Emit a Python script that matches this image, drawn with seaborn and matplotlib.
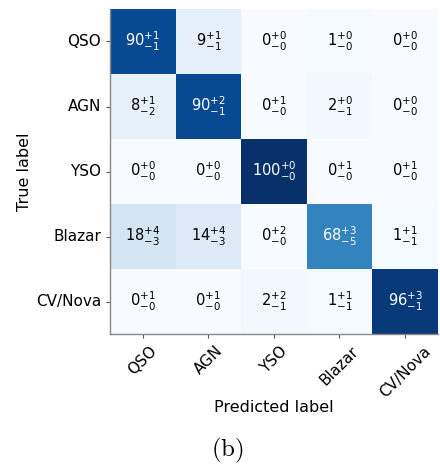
import numpy as np
import seaborn as sns
import matplotlib.pyplot as plt

sns.set_style('ticks')
plt.rcParams['font.family'] = ['DejaVu Sans']
plt.rcParams['text.color'] = 'black'
plt.rcParams['axes.labelcolor'] = 'black'
plt.rcParams['xtick.labelcolor'] = 'black'
plt.rcParams['ytick.labelcolor'] = 'black'

CLASSES = ['QSO', 'AGN', 'YSO', 'Blazar', 'CV/Nova']

# percentages (rows = true, columns = predicted)
VALUES = [
    [90, 9, 0, 1, 0],
    [8, 90, 0, 2, 0],
    [0, 0, 100, 0, 0],
    [18, 14, 0, 68, 1],
    [0, 0, 2, 1, 96],
]
ERR_UP = [
    [1, 1, 0, 0, 0],
    [1, 2, 1, 0, 0],
    [0, 0, 0, 1, 1],
    [4, 4, 2, 3, 1],
    [1, 1, 2, 1, 3],
]
ERR_DOWN = [
    [1, 1, 0, 0, 0],
    [2, 1, 0, 1, 0],
    [0, 0, 0, 0, 0],
    [3, 3, 0, 5, 1],
    [0, 0, 1, 1, 1],
]


def make_labels(vals, up, down):
    out = []
    for r in range(len(vals)):
        row = []
        for c in range(len(vals[r])):
            row.append('$%d^{+%d}_{-%d}$' % (vals[r][c], up[r][c], down[r][c]))
        out.append(row)
    return np.array(out)


fig = plt.figure(figsize=(4.4, 4.7), dpi=100)
ax = fig.add_axes([0.25, 0.289, 0.745, 0.692])

sns.heatmap(
    np.array(VALUES),
    annot=make_labels(VALUES, ERR_UP, ERR_DOWN),
    fmt='',
    cmap='Blues',
    vmin=0,
    vmax=100,
    cbar=False,
    linewidths=0,
    annot_kws={'size': 10.5},
    xticklabels=CLASSES,
    yticklabels=CLASSES,
    ax=ax,
)

# seaborn uses dark grey for text on light cells, the original is black
for t in ax.texts:
    if t.get_color() != 'w':
        t.set_color('black')

for side in ['left', 'bottom']:
    ax.spines[side].set_visible(True)
    ax.spines[side].set_color('#888888')
    ax.spines[side].set_linewidth(1.0)

ax.tick_params(axis='both', length=3, color='#555555', labelsize=11)
plt.setp(ax.get_xticklabels(), rotation=45, ha='center')
plt.setp(ax.get_yticklabels(), rotation=0)

ax.set_xlabel('Predicted label', fontsize=11.5, labelpad=0)
ax.set_ylabel('True label', fontsize=11.5, labelpad=3)

fig.text(0.517, 0.042, r'$\mathrm{(b)}$', fontsize=18, ha='center', va='center',
         math_fontfamily='cm')

fig.savefig('out.png', dpi=100)
